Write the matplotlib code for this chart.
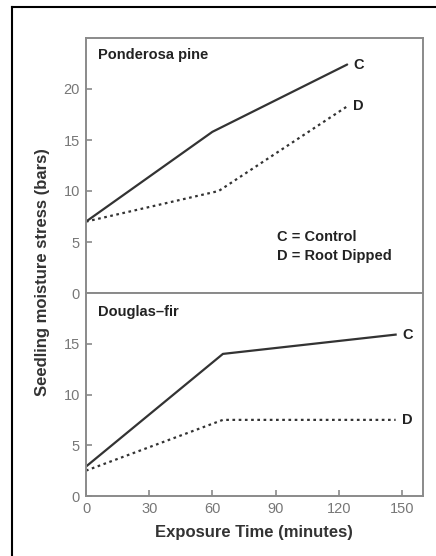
import matplotlib
matplotlib.use("Agg")
import matplotlib.pyplot as plt
from matplotlib.lines import Line2D

# Data
pp_time_c = [0, 60, 124]
pp_control = [7.0, 15.8, 22.4]
pp_time_d = [0, 63, 124]
pp_dipped = [7.0, 10.0, 18.3]

df_time = [0, 65, 147]
df_control = [2.9, 14.0, 15.9]
df_dipped = [2.5, 7.5, 7.5]

xticks = [0, 30, 60, 90, 120, 150]
top_yticks = [0, 5, 10, 15, 20]
bot_yticks = [0, 5, 10, 15]

plt.rcParams['font.family'] = ['Liberation Sans', 'DejaVu Sans']

fig = plt.figure(figsize=(4.36, 5.56), dpi=100)
W, H = 436, 556
left, right = 86 / W, 423 / W
ax1 = fig.add_axes([left, 1 - 293 / H, right - left, (293 - 38) / H])
ax2 = fig.add_axes([left, 1 - 496 / H, right - left, (496 - 293) / H])

line_col = '#333333'
spine_col = '#8a8a8a'
tick_col = '#777777'
txt_col = '#222222'
fs = 10.5

for ax in (ax1, ax2):
    ax.set_xlim(0, 160)
    for s in ax.spines.values():
        s.set_color(spine_col)
        s.set_linewidth(1.4)
    ax.tick_params(direction='in', length=4, width=1.2, color=spine_col,
                   labelcolor=tick_col, labelsize=10.5, pad=4.5)

ax1.set_ylim(0, 25)
ax1.set_yticks(top_yticks)
ax1.set_xticks([])
ax1.plot(pp_time_c, pp_control, color=line_col, lw=1.6, solid_capstyle='round')
ax1.plot(pp_time_d, pp_dipped, color=line_col, lw=1.6, linestyle=(0, (1.2, 1.6)))
ax1.text(pp_time_c[-1] + 3, pp_control[-1], 'C', fontsize=fs, fontweight='bold',
         color=txt_col, ha='left', va='center')
ax1.text(pp_time_d[-1] + 3, pp_dipped[-1], 'D', fontsize=fs, fontweight='bold',
         color=txt_col, ha='left', va='center')
ax1.text(5.5, 23.3, 'Ponderosa pine', fontsize=fs, fontweight='bold',
         color=txt_col, ha='left', va='center')
ax1.text(90.5, 5.5, 'C = Control', fontsize=fs, fontweight='bold',
         color=txt_col, ha='left', va='center')
ax1.text(90.5, 3.6, 'D = Root Dipped', fontsize=fs, fontweight='bold',
         color=txt_col, ha='left', va='center')

ax2.set_ylim(0, 20)
ax2.set_yticks(bot_yticks)
ax2.set_xticks(xticks)
ax2.tick_params(axis='x', pad=4)
ax2.plot(df_time, df_control, color=line_col, lw=1.6)
ax2.plot(df_time, df_dipped, color=line_col, lw=1.6, linestyle=(0, (1.2, 1.6)))
ax2.text(df_time[-1] + 3, df_control[-1], 'C', fontsize=fs, fontweight='bold',
         color=txt_col, ha='left', va='center')
ax2.text(df_time[-1] + 3, df_dipped[-1], 'D', fontsize=fs, fontweight='bold',
         color=txt_col, ha='left', va='center')
ax2.text(5.5, 18.1, 'Douglas\u2013fir', fontsize=fs, fontweight='bold',
         color=txt_col, ha='left', va='center')

fig.text(254 / W, 1 - 532 / H, 'Exposure Time (minutes)', fontsize=12,
         fontweight='bold', color='#333333', ha='center', va='center')
fig.text(42 / W, 1 - 272 / H, 'Seedling moisture stress (bars)', fontsize=12,
         fontweight='bold', color='#333333', ha='center', va='center',
         rotation=90)

# outer frame (top and left edges visible)
fig.add_artist(Line2D([12 / W, 1.0], [1 - 7 / H, 1 - 7 / H], color='black', lw=1.5,
                      transform=fig.transFigure))
fig.add_artist(Line2D([12 / W, 12 / W], [0, 1 - 7 / H], color='black', lw=1.5,
                      transform=fig.transFigure))

fig.savefig('out.png', dpi=100)
